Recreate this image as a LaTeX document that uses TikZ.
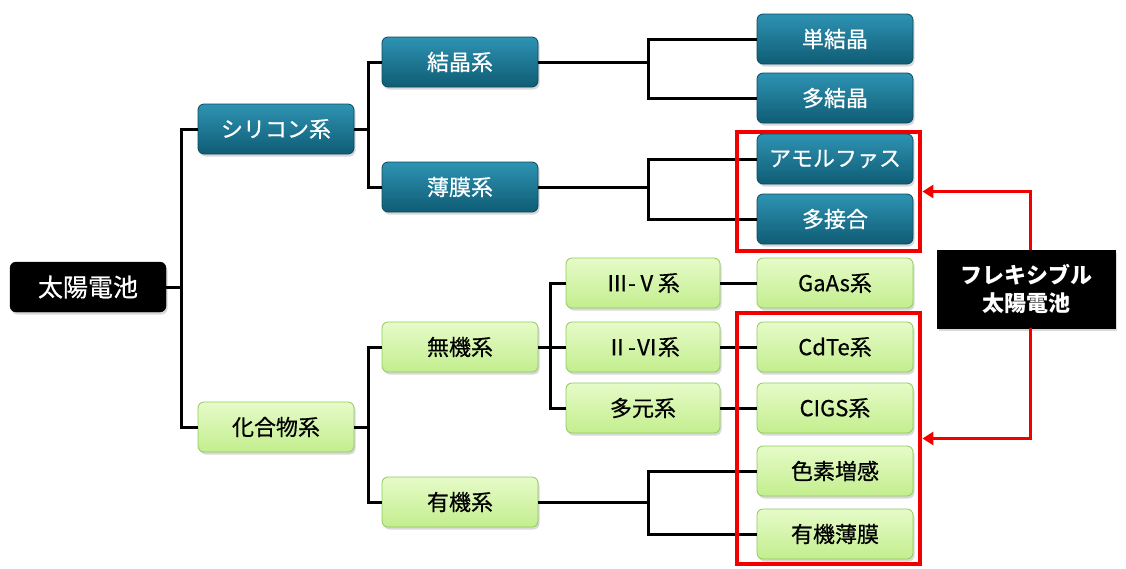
\documentclass[tikz,border=0pt]{standalone}
\usepackage{fontspec}
\setmainfont{Noto Sans CJK JP}
\newfontfamily\medfont{Noto Sans CJK JP}[FakeBold=0.6]
\usetikzlibrary{shadows,arrows.meta,calc,fit}
\definecolor{tealtop}{HTML}{2E93B3}
\definecolor{tealbot}{HTML}{0F5C74}
\definecolor{tealdraw}{HTML}{0A4A5E}
\definecolor{greentop}{HTML}{E6FBC8}
\definecolor{greenbot}{HTML}{C3EE8E}
\definecolor{greendraw}{HTML}{8CCB5A}
\definecolor{redline}{HTML}{F20000}
\begin{document}
\begin{tikzpicture}[x=1pt,y=-1pt,
  base/.style={rounded corners=6pt, minimum width=156pt, minimum height=50pt, inner sep=0pt,
    font=\fontsize{22}{26}\selectfont\medfont, anchor=center,
    drop shadow={opacity=0.3, shadow xshift=1.5pt, shadow yshift=-2.5pt}},
  tealbox/.style={base, draw=tealdraw, line width=0.8pt, top color=tealtop, bottom color=tealbot, text=white},
  greenbox/.style={base, draw=greendraw, line width=0.8pt, top color=greentop, bottom color=greenbot, text=black},
  blackbox/.style={base, draw=black, fill=black, text=white, font=\fontsize{25}{28}\selectfont\medfont},
  conn/.style={line width=3pt, black},
  redbox/.style={draw=redline, line width=4pt, inner sep=0pt},
  redarr/.style={draw=redline, line width=3pt, -{Triangle[length=11pt,width=13pt]}}]
\useasboundingbox (0,0) rectangle (1126,568);

% level 0
\node[blackbox] (taiyo) at (88,287) {太陽電池};
% level 1
\node[tealbox] (si) at (276,129) {シリコン系};
\node[greenbox] (ka) at (276,427) {化合物系};
% level 2
\node[tealbox] (kessho) at (460,62) {結晶系};
\node[tealbox] (hakumaku) at (460,187) {薄膜系};
\node[greenbox] (muki) at (460,347) {無機系};
\node[greenbox] (yuki) at (460,502) {有機系};
% level 3 (inorganic)
\node[greenbox, minimum width=154pt] (iiiv) at (643,283) {Ⅲ-Ⅴ系};
\node[greenbox, minimum width=154pt] (iivi) at (643,347) {Ⅱ-Ⅵ系};
\node[greenbox, minimum width=154pt] (tagen) at (643,408) {多元系};
% leaves
\node[tealbox] (tan) at (835,39) {単結晶};
\node[tealbox] (taket) at (835,98) {多結晶};
\node[tealbox] (amo) at (835,159) {アモルファス};
\node[tealbox] (tase) at (835,219) {多接合};
\node[greenbox] (gaas) at (835,283) {GaAs系};
\node[greenbox] (cdte) at (835,347) {CdTe系};
\node[greenbox] (cigs) at (835,408) {CIGS系};
\node[greenbox] (shiki) at (835,471) {色素増感};
\node[greenbox] (yukih) at (835,534) {有機薄膜};

% connectors
\draw[conn] (taiyo.east) -- ++(15,0) |- (si.west);
\draw[conn] (taiyo.east) -- ++(15,0) |- (ka.west);
\draw[conn] (si.east) -- ++(14,0) |- (kessho.west);
\draw[conn] (si.east) -- ++(14,0) |- (hakumaku.west);
\draw[conn] (ka.east) -- ++(14,0) |- (muki.west);
\draw[conn] (ka.east) -- ++(14,0) |- (yuki.west);
\draw[conn] (kessho.east) -- ++(110,0) |- (tan.west);
\draw[conn] (kessho.east) -- ++(110,0) |- (taket.west);
\draw[conn] (hakumaku.east) -- ++(110,0) |- (amo.west);
\draw[conn] (hakumaku.east) -- ++(110,0) |- (tase.west);
\draw[conn] (yuki.east) -- ++(110,0) |- (shiki.west);
\draw[conn] (yuki.east) -- ++(110,0) |- (yukih.west);
\draw[conn] (muki.east) -- ++(12,0) |- (iiiv.west);
\draw[conn] (muki.east) -- ++(12,0) |- (iivi.west);
\draw[conn] (muki.east) -- ++(12,0) |- (tagen.west);
\draw[conn] (iiiv.east) -- (gaas.west);
\draw[conn] (iivi.east) -- (cdte.west);
\draw[conn] (tagen.east) -- (cigs.west);

% red frames
\coordinate (r1a) at ($(amo.north west)+(-20,-2)$);
\coordinate (r1b) at ($(tase.south east)+(7,7)$);
\node[redbox, fit=(r1a)(r1b)] (r1) {};
\coordinate (r2a) at ($(cdte.north west)+(-20,-9)$);
\coordinate (r2b) at ($(yukih.south east)+(7,5)$);
\node[redbox, fit=(r2a)(r2b)] (r2) {};

% flexible label
\node[draw=black, fill=black, text=white, minimum width=178pt, minimum height=78pt, inner sep=0pt,
  align=center, font=\fontsize{22}{28}\selectfont\bfseries,
  drop shadow={opacity=0.3, shadow xshift=1.5pt, shadow yshift=-2.5pt}] (flex) at (1026,289) {フレキシブル\\太陽電池};

\draw[redarr] ($(flex.north)+(4,0)$) |- (r1.east);
\draw[redarr] ($(flex.south)+(4,0)$) |- (r2.east);
\end{tikzpicture}
\end{document}
